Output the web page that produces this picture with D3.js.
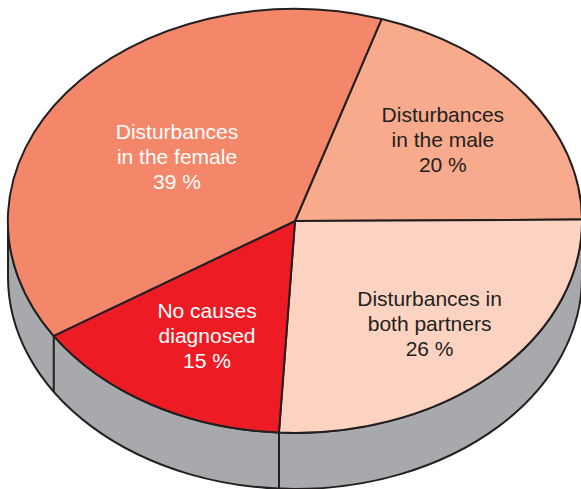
<!DOCTYPE html>
<html>
<head>
<meta charset="utf-8">
<script src="https://cdn.jsdelivr.net/npm/d3@7"></script>
<style>
  body { margin: 0; background: #fff; }
  svg { display: block; }
  .lbl { font-family: "Liberation Sans", Arial, sans-serif; font-size: 21px; text-anchor: middle; }
</style>
</head>
<body>
<div id="root"></div>
<script>
"use strict";

// Data: slices in drawing order (clockwise from the top boundary)
const categories = ["male", "both", "none", "female"];
const values = [20, 26, 15, 39];
const labels = [
    "Disturbances\nin the male\n20 %",
    "Disturbances in\nboth partners\n26 %",
    "No causes\ndiagnosed\n15 %",
    "Disturbances\nin the female\n39 %"
];

// Style
const colors = ["#F8AA8D", "#FCD3C1", "#ED1C24", "#F4876A"];
const textColors = ["#231F20", "#231F20", "#ffffff", "#ffffff"];
const labelRadius = [0.64, 0.67, 0.63, 0.5];
const labelNudge = [0, 2, 3, -4];   // small horizontal tweak, px
const sideColor = "#A7A9AC";
const lineColor = "#231F20";

/* ************* Layout ************* */
const width = 581;
const height = 489;
const cx = 295, cy = 221;     // centre of the top face
const rx = 287, ry = 212;     // radii of the tilted disc
const depth = 56 / ry;        // thickness in unit-circle space
const startAngle = 17.6 * Math.PI / 180;

let svg = d3.select('#root')
    .append('svg')
    .attr('width', width)
    .attr('height', height);

// Everything is drawn on a unit circle, then squashed into an ellipse
let xScale = d3.scaleLinear().domain([-1, 1]).range([cx - rx, cx + rx]);
let yScale = d3.scaleLinear().domain([-1, 1]).range([cy - ry, cy + ry]);

let unitG = svg.append('g')
    .attr('transform', `translate(${xScale(0)},${yScale(0)}) scale(${rx},${ry})`);

let pie = d3.pie()
    .sort(null)
    .value((d) => d)
    .startAngle(startAngle)
    .endAngle(startAngle + 2 * Math.PI);

let arcs = pie(values);

/* ************* Side (visible lower half) ************* */
let side = d3.path();
side.moveTo(-1, 0);
side.arc(0, 0, 1, Math.PI, 0, true);
side.lineTo(1, depth);
side.arc(0, depth, 1, 0, Math.PI, false);
side.closePath();

unitG.append('path')
    .attr('d', side.toString())
    .attr('fill', sideColor)
    .attr('stroke', lineColor)
    .attr('stroke-width', 2)
    .attr('vector-effect', 'non-scaling-stroke');

// vertical edges where slice boundaries meet the visible side
let edges = arcs.map((d) => d.startAngle % (2 * Math.PI))
    .filter((a) => a > Math.PI / 2 && a < 3 * Math.PI / 2);

unitG.selectAll('line.edge')
    .data(edges)
    .enter().append('line')
    .attr('class', 'edge')
    .attr('x1', (a) => Math.sin(a))
    .attr('x2', (a) => Math.sin(a))
    .attr('y1', (a) => -Math.cos(a))
    .attr('y2', (a) => -Math.cos(a) + depth)
    .attr('stroke', lineColor)
    .attr('stroke-width', 2)
    .attr('vector-effect', 'non-scaling-stroke');

/* ************* Top face ************* */
let arc = d3.arc().innerRadius(0).outerRadius(1);

unitG.selectAll('path.slice')
    .data(arcs)
    .enter().append('path')
    .attr('class', 'slice')
    .attr('d', arc)
    .attr('fill', (d, i) => colors[i])
    .attr('stroke', lineColor)
    .attr('stroke-width', 2)
    .attr('stroke-linejoin', 'round')
    .attr('vector-effect', 'non-scaling-stroke');

/* ************* Labels ************* */
let lineHeight = 25;
arcs.forEach((d, i) => {
    let mid = (d.startAngle + d.endAngle) / 2;
    let r = labelRadius[i];
    let lx = xScale(r * Math.sin(mid)) + labelNudge[i];
    let ly = yScale(-r * Math.cos(mid)) + 7;
    let lines = labels[i].split('\n');
    let t = svg.append('text')
        .attr('class', 'lbl')
        .attr('fill', textColors[i]);
    lines.forEach((s, j) => {
        t.append('tspan')
            .attr('x', lx)
            .attr('y', ly + (j - (lines.length - 1) / 2) * lineHeight)
            .text(s);
    });
});
</script>
</body>
</html>
